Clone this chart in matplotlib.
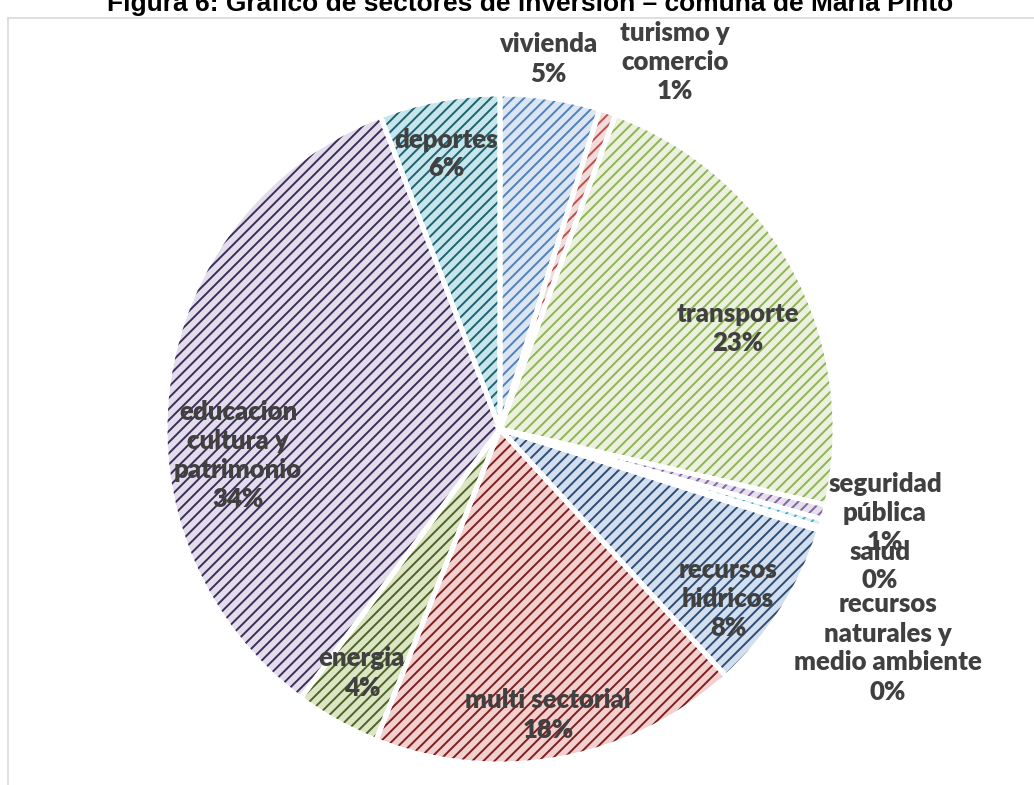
import matplotlib.pyplot as plt
import matplotlib.patches as mpatches

sectores = ['vivienda', 'turismo y\ncomercio', 'transporte', 'seguridad\npública', 'salud',
            'recursos\nnaturales y\nmedio ambiente', 'recursos\nhidricos', 'multi sectorial',
            'energia', 'educacion\ncultura y\npatrimonio', 'deportes']
valores = [4.8, 0.8, 23.0, 0.7, 0.4, 0.15, 8.3, 17.8, 4.1, 34.0, 5.8]
fondo = ['#DCE6F2', '#F2DCDB', '#EBF1DE', '#E5E0EC', '#DBEEF4', '#FDE9D9',
         '#D3DEEE', '#F2D0CF', '#DCE6C4', '#E2DDEA', '#C6E6EC']
trama = ['#4F81BD', '#C0504D', '#8DB653', '#8064A2', '#4BACC6', '#F79646',
         '#2C4D75', '#7F1F1E', '#4F6228', '#3F2C5A', '#1F6270']
# label centres in pixels (x, y from top)
pos_etiquetas = [(548, 59), (675, 62), (738, 329), (885, 513), (880, 566), (888, 648),
                 (728, 599), (548, 715), (362, 673), (238, 456), (446, 154)]

W, H = 1034, 785
cx, cy, R = 500, 429, 335

plt.rcParams['hatch.linewidth'] = 1.4
fig = plt.figure(figsize=(W / 100, H / 100), dpi=100)
ax = fig.add_axes([0, 0, 1, 1])

wedges, _ = ax.pie(valores, startangle=90, counterclock=False, radius=1,
                   wedgeprops=dict(edgecolor='white', linewidth=3.5))
for w, f, t in zip(wedges, fondo, trama):
    w.set_facecolor(f)
    ax.add_patch(mpatches.Wedge(w.center, w.r, w.theta1, w.theta2, facecolor='none',
                                edgecolor=t, hatch='///', linewidth=0))
    w.set_zorder(1)
for w in wedges:
    ax.add_patch(mpatches.Wedge(w.center, w.r, w.theta1, w.theta2, facecolor='none',
                                edgecolor='white', linewidth=3.5, zorder=3))

ax.set_xlim(-cx / R, (W - cx) / R)
ax.set_ylim((cy - H) / R, cy / R)
ax.set_aspect('auto')
ax.axis('off')

total = sum(valores)
for nombre, v, (px, py) in zip(sectores, valores, pos_etiquetas):
    ax.text((px - cx) / R, (cy - py) / R, f'{nombre}\n{round(v / total * 100):.0f}%',
            ha='center', va='center', fontsize=18.5, fontweight='heavy', family='Lato',
            color='#404040', linespacing=1.25, zorder=5)

fig.add_artist(mpatches.Rectangle((8 / W, -0.1), 1.2, 1 - 18 / H + 0.1,
                                  transform=fig.transFigure, fill=False,
                                  edgecolor='#D9D9D9', linewidth=1.2))
fig.text(530 / W, 1 - 10.5 / H, 'Figura 6: Gráfico de sectores de inversión – comuna de María Pinto',
         ha='center', va='baseline', fontsize=19, fontweight='bold', family='Liberation Sans')

fig.savefig('out.png', dpi=100)
